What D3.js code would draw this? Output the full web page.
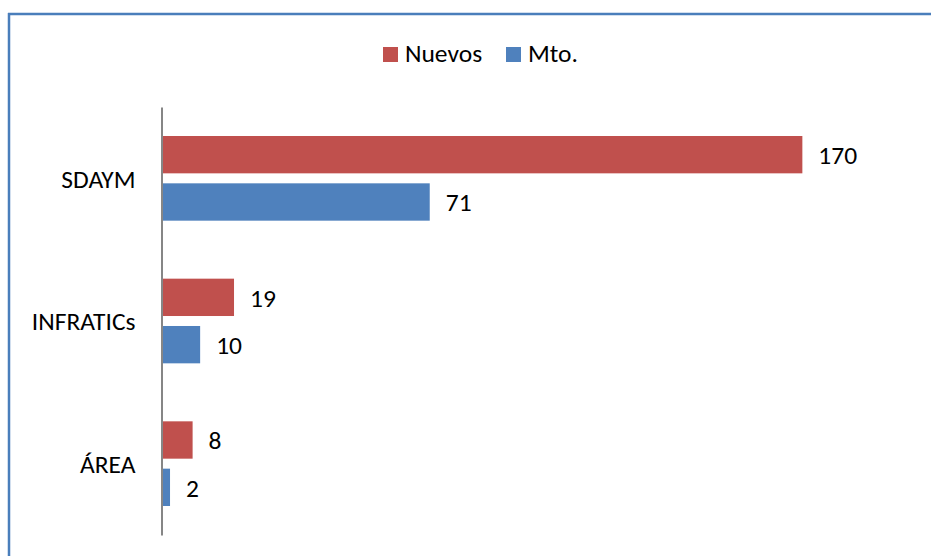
<!DOCTYPE html>
<html>
<head>
<meta charset="utf-8">
<script src="https://cdn.jsdelivr.net/npm/d3@7"></script>
<style>
  html, body { margin: 0; padding: 0; background: #fff; }
  svg { display: block; }
  text { font-family: Carlito, Lato, "Open Sans", sans-serif; fill: #000; }
</style>
</head>
<body>
<svg id="chart" width="931" height="556"></svg>
<script>
const categories = ["SDAYM", "INFRATICs", "ÁREA"];
const seriesNames = ["Nuevos", "Mto."];
const nuevos = [170, 19, 8];
const mto = [71, 10, 2];
const colors = ["#c0504d", "#4f81bd"];

const W = 931, H = 556;
const FS = 25.5;
const svg = d3.select("#chart");

// chart border (top and left visible)
svg.append("line").attr("x1", 8).attr("x2", W).attr("y1", 14).attr("y2", 14)
  .attr("stroke", "#4a7ebb").attr("stroke-width", 2.5);
svg.append("line").attr("x1", 9).attr("x2", 9).attr("y1", 13).attr("y2", H)
  .attr("stroke", "#4a7ebb").attr("stroke-width", 2.5);

const x = d3.scaleLinear().domain([0, 180]).range([162.5, 840]);
const y = d3.scaleBand().domain(categories).range([107, 535]).paddingInner(0).paddingOuter(0);
const inner = d3.scaleBand().domain(seriesNames)
  .range([29, y.bandwidth() - 29]).paddingInner(0.211).paddingOuter(0);

const rows = categories.map((c, i) => ({ cat: c, values: [nuevos[i], mto[i]] }));

const g = svg.append("g");
const groups = g.selectAll("g.cat").data(rows).join("g")
  .attr("class", "cat")
  .attr("transform", d => `translate(0,${y(d.cat)})`);

groups.selectAll("rect").data(d => d.values.map((v, j) => ({ v, s: seriesNames[j], j })))
  .join("rect")
  .attr("x", x(0))
  .attr("y", d => inner(d.s))
  .attr("width", d => x(d.v) - x(0))
  .attr("height", inner.bandwidth())
  .attr("fill", d => colors[d.j]);

groups.selectAll("text.val").data(d => d.values.map((v, j) => ({ v, s: seriesNames[j], j })))
  .join("text")
  .attr("class", "val")
  .attr("x", d => x(d.v) + 16)
  .attr("y", d => inner(d.s) + inner.bandwidth() / 2)
  .attr("dy", "0.36em")
  .attr("font-size", FS)
  .text(d => d.v);

// category axis
const yAxis = d3.axisLeft(y).tickSize(0).tickPadding(26);
const ax = svg.append("g").attr("transform", "translate(161.5,0)").call(yAxis);
ax.select(".domain").attr("stroke", "#868686").attr("stroke-width", 2);
ax.selectAll("text").attr("font-size", FS).attr("dy", "0.36em")
  .style("font-family", "Carlito, Lato, 'Open Sans', sans-serif").attr("fill", "#000");

// legend
const legend = svg.append("g");
const legX = [383, 506];
seriesNames.forEach((s, i) => {
  legend.append("rect").attr("x", legX[i]).attr("y", 47).attr("width", 15).attr("height", 15)
    .attr("fill", colors[i]);
  legend.append("text").attr("x", legX[i] + 22).attr("y", 62).attr("font-size", FS).text(s);
});
</script>
</body>
</html>
